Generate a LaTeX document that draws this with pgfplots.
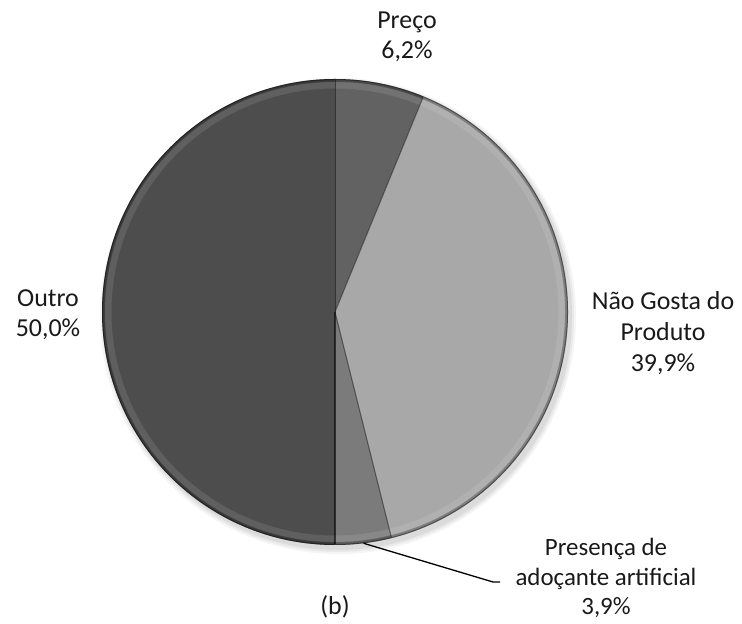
\documentclass[border=0pt]{standalone}
\usepackage{pgfplots}
\usepackage{pgfplotstable}
\pgfplotsset{compat=1.18}
\usepackage{fontspec}
\setmainfont{Carlito}

\definecolor{cPreco}{HTML}{626262}
\definecolor{cNao}{HTML}{A8A8A8}
\definecolor{cPres}{HTML}{7B7B7B}
\definecolor{cOutro}{HTML}{4D4D4D}

\pgfplotstableread{
label value
Preco 6.2
NaoGosta 39.9
Presenca 3.9
Outro 50.0
}\piedata

\begin{document}
\begin{tikzpicture}
\pgfplotstablegetelem{0}{value}\of\piedata \let\vA\pgfplotsretval
\pgfplotstablegetelem{1}{value}\of\piedata \let\vB\pgfplotsretval
\pgfplotstablegetelem{2}{value}\of\piedata \let\vC\pgfplotsretval
\pgfplotstablegetelem{3}{value}\of\piedata \let\vD\pgfplotsretval
\pgfmathsetmacro\aA{90}
\pgfmathsetmacro\aB{\aA-3.6*\vA}
\pgfmathsetmacro\aC{\aB-3.6*\vB}
\pgfmathsetmacro\aD{\aC-3.6*\vC}
\pgfmathsetmacro\aE{\aD-3.6*\vD}
\pgfmathsetmacro\aMid{(\aC+\aD)/2}
\begin{axis}[
  width=742bp, height=624bp, scale only axis,
  xmin=0, xmax=742, ymin=0, ymax=624,
  hide axis, clip=false,
]
\path (rel axis cs:0,0) rectangle (rel axis cs:1,1);
% soft shadow
\fill[black, opacity=0.04] (axis cs:338,308) circle[radius=238bp];
\fill[black, opacity=0.05] (axis cs:338,308) circle[radius=236bp];
\fill[black, opacity=0.06] (axis cs:338,308) circle[radius=234bp];
% slices
\fill[cPreco] (axis cs:335,312) -- ++(\aA:233bp) arc[start angle=\aA, end angle=\aB, radius=233bp] -- cycle;
\fill[cNao]   (axis cs:335,312) -- ++(\aB:233bp) arc[start angle=\aB, end angle=\aC, radius=233bp] -- cycle;
\fill[cPres]  (axis cs:335,312) -- ++(\aC:233bp) arc[start angle=\aC, end angle=\aD, radius=233bp] -- cycle;
\fill[cOutro] (axis cs:335,312) -- ++(\aD:233bp) arc[start angle=\aD, end angle=\aE, radius=233bp] -- cycle;
% bevel / rim
\draw[white, opacity=0.10, line width=7bp] (axis cs:335,312) circle[radius=227bp];
\draw[black, opacity=0.25, line width=3bp] (axis cs:335,312) circle[radius=231.5bp];
\draw[black, opacity=0.40, line width=1bp] (axis cs:335,312) circle[radius=232.5bp];
% slice edges
\draw[black, opacity=0.45, line width=1bp] (axis cs:335,312) -- ++(\aA:232bp);
\draw[black, opacity=0.45, line width=1bp] (axis cs:335,312) -- ++(\aB:232bp);
\draw[black, opacity=0.45, line width=1bp] (axis cs:335,312) -- ++(\aC:232bp);
\draw[black, opacity=0.60, line width=1.2bp] (axis cs:335,312) -- ++(\aD:232bp);
% leader line
\draw[black, line width=1.3bp] (axis cs:335,312) ++(\aMid:233bp) -- (axis cs:493,42) -- (axis cs:500,42);
% labels
\node[align=center, text=black!90, font=\fontsize{26}{30}\selectfont] at (axis cs:407,587) {Preço\\6,2\%};
\node[align=center, text=black!90, font=\fontsize{26}{30}\selectfont] at (axis cs:48,309) {Outro\\50,0\%};
\node[align=center, text=black!90, font=\fontsize{26}{31}\selectfont] at (axis cs:663,291) {Não Gosta do\\Produto\\39,9\%};
\node[align=center, text=black!90, font=\fontsize{25}{30}\selectfont] at (axis cs:606,46) {Presença de\\adoçante artificial\\3,9\%};
\node[align=center, text=black!90, font=\fontsize{26}{30}\selectfont] at (axis cs:335,17) {(b)};
\end{axis}
\end{tikzpicture}
\end{document}
